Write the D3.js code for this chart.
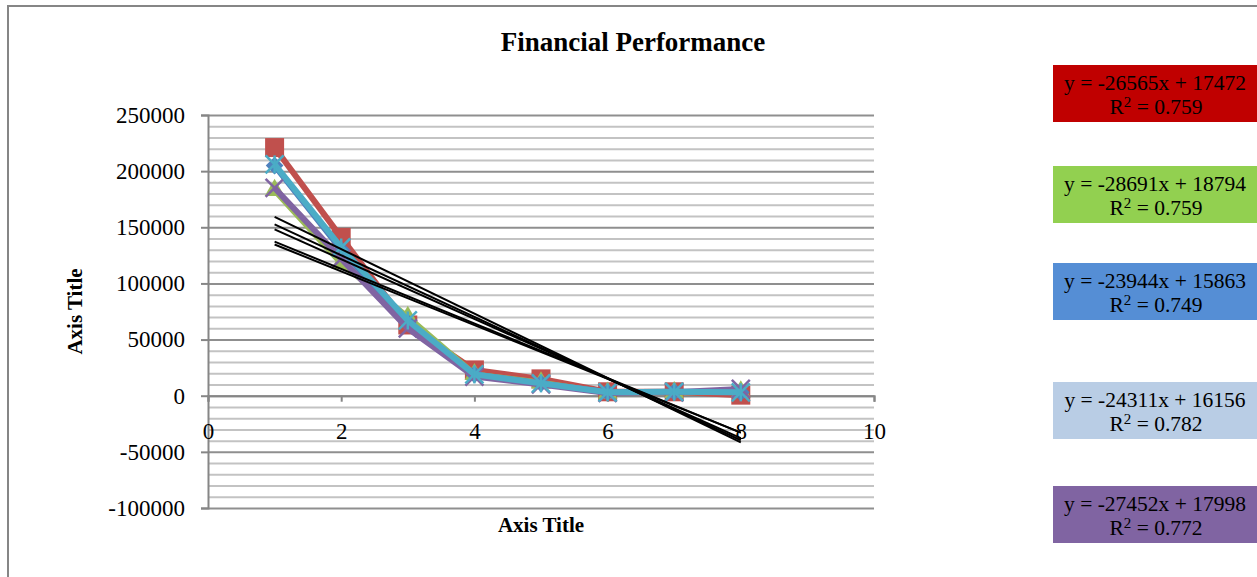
<!DOCTYPE html>
<html>
<head>
<meta charset="utf-8">
<script src="https://cdn.jsdelivr.net/npm/d3@7"></script>
<style>
  html, body { margin: 0; padding: 0; background: #fff; }
  svg { display: block; }
  text { font-family: "Liberation Serif", "Times New Roman", serif; fill: #000; }
</style>
</head>
<body>
<svg id="chart" width="1257" height="577"></svg>
<script>
// ---- data ----
const xValues = [1, 2, 3, 4, 5, 6, 7, 8];
const redValues    = [221000, 141000, 63000, 23000, 15000, 3500, 3500, 500];
const greenValues  = [183000, 118000, 70000, 19000, 11500, 2500, 3000, 3500];
const blueValues   = [205000, 130000, 65000, 19000, 11000, 3000, 3500, 3000];
const purpleValues = [185000, 122000, 60000, 17000, 10000, 2500, 3000, 6000];
const aquaValues   = [206000, 132000, 67000, 19000, 11000, 3000, 3500, 3000];

const yTicks = [-100000, -50000, 0, 50000, 100000, 150000, 200000, 250000];
const xTicks = [0, 2, 4, 6, 8, 10];

// linear trendlines (slope, intercept) and their displayed labels
const trendSlopes     = [-26565, -28691, -23944, -24311, -27452];
const trendIntercepts = [174720, 187940, 158630, 161560, 179980];
const trendEquations  = ["y = -26565x + 17472", "y = -28691x + 18794", "y = -23944x + 15863",
                         "y = -24311x + 16156", "y = -27452x + 17998"];
const trendR2         = ["0.759", "0.759", "0.749", "0.782", "0.772"];

const chartTitle = "Financial Performance";
const xAxisTitle = "Axis Title";
const yAxisTitle = "Axis Title";

// ---- layout ----
const svg = d3.select("#chart");
const plot = { left: 208, right: 874, top: 115, bottom: 508 };
const x = d3.scaleLinear().domain([0, 10]).range([plot.left, plot.right]);
const y = d3.scaleLinear().domain([-100000, 250000]).range([plot.bottom, plot.top]);
const plainNumber = d => String(d);

// outer chart frame
svg.append("rect")
  .attr("x", 8).attr("y", 6).attr("width", 1270).attr("height", 600)
  .attr("fill", "none").attr("stroke", "#868686").attr("stroke-width", 2);

// minor gridlines every 10000
const minorTicks = d3.range(-100000, 250001, 10000).filter(v => v % 50000 !== 0);
svg.append("g")
  .attr("transform", `translate(${plot.left},0)`)
  .call(d3.axisLeft(y).tickValues(minorTicks).tickSize(-(plot.right - plot.left)).tickFormat(""))
  .call(g => g.select(".domain").remove())
  .call(g => g.selectAll("line").attr("stroke", "#c3c3c3").attr("stroke-width", 2));

// major gridlines
svg.append("g")
  .attr("transform", `translate(${plot.left},0)`)
  .call(d3.axisLeft(y).tickValues(yTicks).tickSize(-(plot.right - plot.left)).tickFormat(""))
  .call(g => g.select(".domain").remove())
  .call(g => g.selectAll("line").attr("stroke", "#8f8f8f").attr("stroke-width", 2));

// y axis with outside ticks and labels
svg.append("g")
  .attr("transform", `translate(${plot.left},0)`)
  .call(d3.axisLeft(y).tickValues(yTicks).tickSize(7).tickPadding(16).tickFormat(plainNumber))
  .call(g => g.select(".domain").attr("stroke", "#868686").attr("stroke-width", 2))
  .call(g => g.selectAll(".tick line").attr("stroke", "#868686").attr("stroke-width", 2))
  .call(g => g.selectAll("text").attr("font-family", "Liberation Serif").attr("font-size", 23).attr("fill", "#000"));

// x axis along the zero line, ticks pointing down
svg.append("g")
  .attr("transform", `translate(0,${y(0)})`)
  .call(d3.axisBottom(x).tickValues(xTicks).tickSize(6).tickPadding(21).tickFormat(plainNumber))
  .call(g => g.select(".domain").attr("stroke", "#868686").attr("stroke-width", 2))
  .call(g => g.selectAll(".tick line").attr("stroke", "#868686").attr("stroke-width", 2))
  .call(g => g.selectAll("text").attr("font-family", "Liberation Serif").attr("font-size", 23).attr("fill", "#000"));

// ---- series ----
const series = [
  { values: redValues,    color: "#C0504D", marker: "square" },
  { values: greenValues,  color: "#9BBB59", marker: "triangle" },
  { values: blueValues,   color: "#4F81BD", marker: "diamond" },
  { values: purpleValues, color: "#8064A2", marker: "x" },
  { values: aquaValues,   color: "#4BACC6", marker: "star" }
];

const line = d3.line().x((d, i) => x(xValues[i])).y(d => y(d));
const markerSymbols = {
  square: d3.symbolSquare, triangle: d3.symbolTriangle, diamond: d3.symbolDiamond2
};
const markerArea = { square: 19 * 19, triangle: 170, diamond: 200 };

series.forEach(s => {
  const g = svg.append("g");
  g.append("path")
    .attr("d", line(s.values))
    .attr("fill", "none").attr("stroke", s.color)
    .attr("stroke-width", 6).attr("stroke-linejoin", "round");

  const pts = g.selectAll("g.pt").data(s.values).join("g")
    .attr("transform", (d, i) => `translate(${x(xValues[i])},${y(d)})`);

  if (markerSymbols[s.marker]) {
    pts.append("path")
      .attr("d", d3.symbol().type(markerSymbols[s.marker]).size(markerArea[s.marker]))
      .attr("fill", s.color);
  } else {
    const r = 9;
    const segs = [[-r, -r, r, r], [-r, r, r, -r]];
    if (s.marker === "star") segs.push([0, -r, 0, r]);
    segs.forEach(sg => {
      pts.append("line")
        .attr("x1", sg[0]).attr("y1", sg[1]).attr("x2", sg[2]).attr("y2", sg[3])
        .attr("stroke", s.color).attr("stroke-width", 2.5);
    });
  }
});

// ---- trendlines over the data range ----
const xMin = d3.min(xValues), xMax = d3.max(xValues);
trendSlopes.forEach((m, i) => {
  const b = trendIntercepts[i];
  svg.append("line")
    .attr("x1", x(xMin)).attr("y1", y(m * xMin + b))
    .attr("x2", x(xMax)).attr("y2", y(m * xMax + b))
    .attr("stroke", "#000").attr("stroke-width", 2);
});

// ---- trendline label boxes ----
const boxColors = ["#C00000", "#92D050", "#558ED5", "#B9CDE5", "#8064A2"];
const boxTops = [65, 166, 263, 382, 486];
const boxLeft = 1053, boxWidth = 206, boxHeight = 57;
trendEquations.forEach((eq, i) => {
  const g = svg.append("g").attr("transform", `translate(${boxLeft},${boxTops[i]})`);
  g.append("rect").attr("width", boxWidth).attr("height", boxHeight).attr("fill", boxColors[i]);
  g.append("text")
    .attr("x", 102).attr("y", 25).attr("text-anchor", "middle")
    .attr("font-size", 21.5).attr("fill", "#111")
    .text(eq);
  const r2 = g.append("text")
    .attr("x", 103).attr("y", 49).attr("text-anchor", "middle")
    .attr("font-size", 21.5).attr("fill", "#111");
  r2.append("tspan").text("R");
  r2.append("tspan").attr("font-size", 15).attr("dy", -7).text("2");
  r2.append("tspan").attr("dy", 7).text(" = " + trendR2[i]);
});

// ---- titles ----
svg.append("text")
  .attr("x", 633).attr("y", 51).attr("text-anchor", "middle")
  .attr("font-size", 27).attr("font-weight", "bold")
  .text(chartTitle);

svg.append("text")
  .attr("x", (plot.left + plot.right) / 2).attr("y", 532).attr("text-anchor", "middle")
  .attr("font-size", 21).attr("font-weight", "bold")
  .text(xAxisTitle);

svg.append("text")
  .attr("transform", `translate(82,${(plot.top + plot.bottom) / 2}) rotate(-90)`)
  .attr("text-anchor", "middle")
  .attr("font-size", 21).attr("font-weight", "bold")
  .text(yAxisTitle);
</script>
</body>
</html>
